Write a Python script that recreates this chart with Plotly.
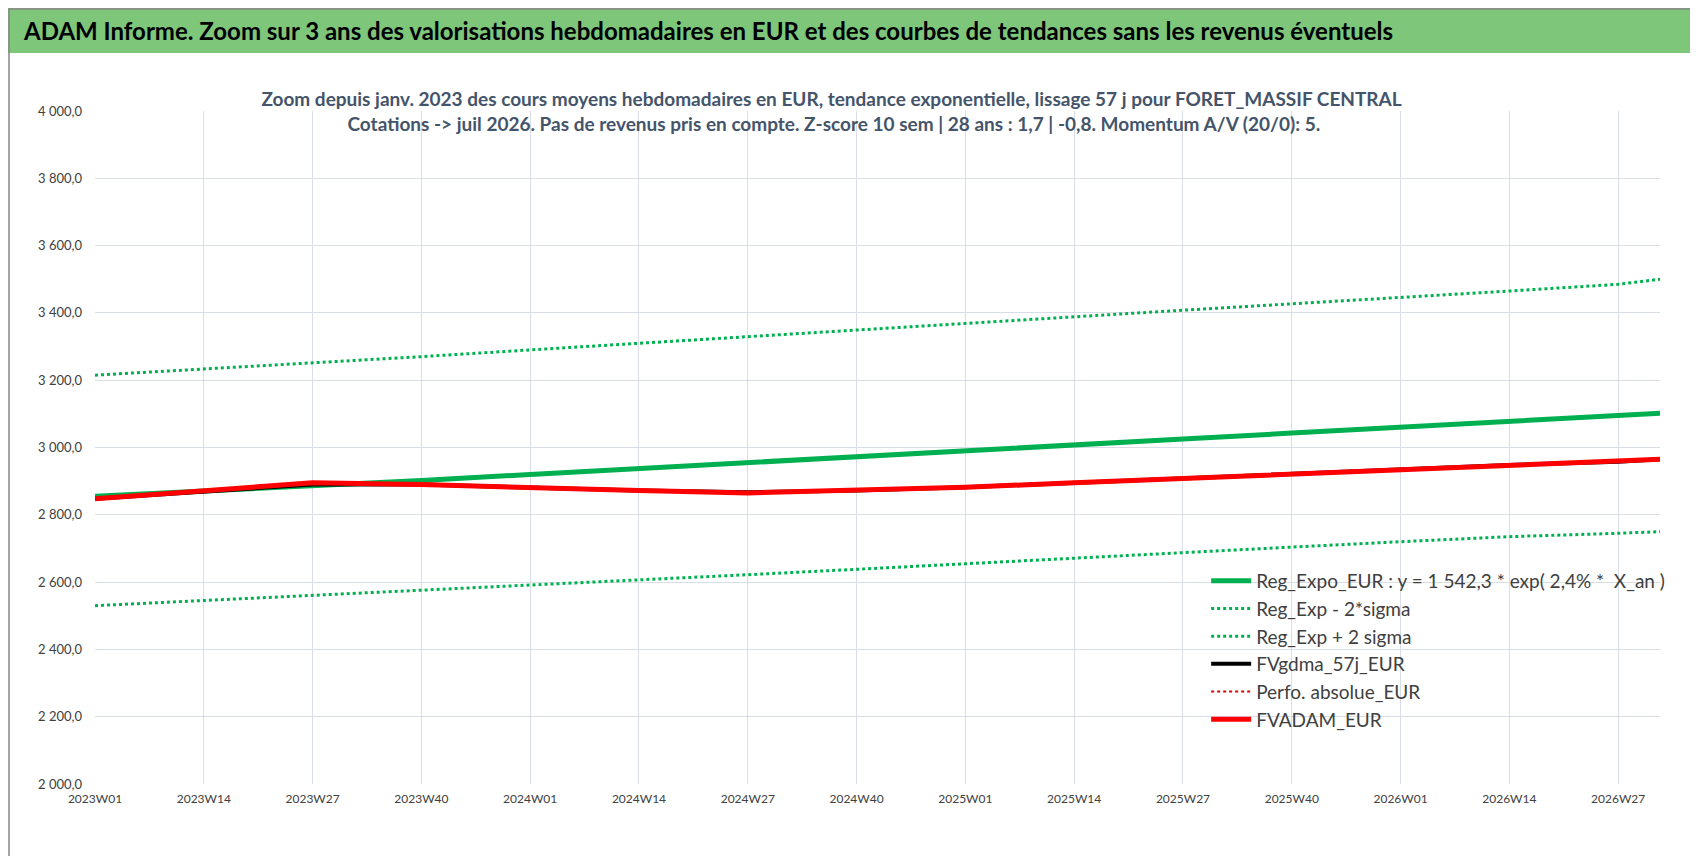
import plotly.graph_objects as go

# week index 0 = 2023W01 (52 weeks per year on the axis)
weeks = [0, 13, 26, 39, 52, 65, 78, 91, 104, 117, 130, 143, 156, 169, 182, 187]
reg_expo = [2855, 2870, 2885, 2902, 2920, 2937, 2954, 2972, 2990, 3007, 3025, 3043, 3060, 3078, 3094, 3102]
reg_minus = [2530, 2545, 2560, 2575, 2590, 2606, 2622, 2638, 2655, 2671, 2687, 2704, 2720, 2735, 2745, 2750]
reg_plus = [3215, 3233, 3251, 3270, 3290, 3310, 3330, 3350, 3370, 3389, 3408, 3427, 3445, 3465, 3485, 3500]
fvgdma = [2848, 2870, 2890, 2890, 2880, 2872, 2867, 2872, 2882, 2895, 2908, 2922, 2935, 2948, 2958, 2965]
perfo = [2848, 2870, 2895, 2890, 2880, 2872, 2865, 2872, 2882, 2895, 2908, 2922, 2935, 2948, 2958, 2965]
fvadam = [2848, 2870, 2895, 2890, 2880, 2872, 2865, 2872, 2882, 2895, 2908, 2922, 2935, 2948, 2958, 2965]

tick_idx = [0, 13, 26, 39, 52, 65, 78, 91, 104, 117, 130, 143, 156, 169, 182]
tick_lab = ["2023W01", "2023W14", "2023W27", "2023W40", "2024W01", "2024W14", "2024W27", "2024W40",
            "2025W01", "2025W14", "2025W27", "2025W40", "2026W01", "2026W14", "2026W27"]
y_ticks = list(range(2000, 4001, 200))
y_lab = [f"{v // 1000} {v % 1000:03d},0" for v in y_ticks]

GREEN = "#00B050"
fig = go.Figure()
fig.add_trace(go.Scatter(x=weeks, y=reg_expo, mode="lines", name="Reg_Expo_EUR : y = 1 542,3 * exp( 2,4% *  X_an )",
                         line=dict(color=GREEN, width=5)))
fig.add_trace(go.Scatter(x=weeks, y=reg_minus, mode="lines", name="Reg_Exp - 2*sigma",
                         line=dict(color=GREEN, width=3, dash="dot")))
fig.add_trace(go.Scatter(x=weeks, y=reg_plus, mode="lines", name="Reg_Exp + 2 sigma",
                         line=dict(color=GREEN, width=3, dash="dot")))
fig.add_trace(go.Scatter(x=weeks, y=fvgdma, mode="lines", name="FVgdma_57j_EUR",
                         line=dict(color="black", width=4)))
fig.add_trace(go.Scatter(x=weeks, y=perfo, mode="lines", name="Perfo. absolue_EUR",
                         line=dict(color="#E00000", width=2, dash="dot")))
fig.add_trace(go.Scatter(x=weeks, y=fvadam, mode="lines", name="FVADAM_EUR",
                         line=dict(color="#FF0000", width=5)))

fig.update_layout(
    width=1698, height=856,
    paper_bgcolor="white", plot_bgcolor="white",
    font=dict(family="Lato, Open Sans, sans-serif", color="#404040"),
    margin=dict(l=87, r=46, t=103, b=80),
    showlegend=True,
    legend=dict(x=0.71, y=0.33, xanchor="left", yanchor="top",
                bgcolor="rgba(255,255,255,0)", font=dict(size=19, color="#404040"),
                tracegroupgap=0, itemwidth=40),
    title=dict(text="Zoom depuis janv. 2023 des cours moyens hebdomadaires en EUR, tendance exponentielle, lissage 57 j pour FORET_MASSIF CENTRAL<br>"
                    "<span style='line-height:1'> </span>Cotations -> juil 2026. Pas de revenus pris en compte. Z-score 10 sem | 28 ans : 1,7 | -0,8. Momentum A/V (20/0): 5.",
               x=0.485, xanchor="center", y=0.885, yanchor="middle",
               font=dict(size=19, color="#44546A", family="Lato, sans-serif", weight="bold")),
    xaxis=dict(range=[0, 187], tickvals=tick_idx, ticktext=tick_lab, showgrid=True,
               gridcolor="#D9DDE6", zeroline=False, tickfont=dict(size=12, color="#404040"),
               showline=False, ticks="", ticklabelstandoff=6),
    yaxis=dict(range=[2000, 4000], tickvals=y_ticks, ticktext=y_lab, showgrid=True,
               gridcolor="#D9DDE6", zeroline=False, tickfont=dict(size=13, color="#404040"),
               ticks="", ticklabelstandoff=12),
)
fig.add_shape(type="rect", xref="paper", yref="paper", x0=-87 / 1565, x1=1 + 45 / 1565, y0=1 + 58 / 673, y1=1 + 103 / 673,
              fillcolor="#7DC67A", line=dict(color="#7DC67A", width=0), layer="below")
fig.add_shape(type="rect", xref="paper", yref="paper", x0=-86 / 1565, x1=1 + 42 / 1565, y0=-76 / 673, y1=1 + 102 / 673,
              fillcolor="rgba(0,0,0,0)", line=dict(color="#888888", width=1.5))
fig.add_annotation(text="ADAM Informe. Zoom sur 3 ans des valorisations hebdomadaires en EUR et des courbes de tendances sans les revenus éventuels",
                   xref="paper", yref="paper", x=-74 / 1565, y=1 + 80 / 673, xanchor="left", yanchor="middle",
                   showarrow=False, font=dict(size=24, color="black", family="Lato, sans-serif", weight="bold"))
fig.write_html("out.html")
